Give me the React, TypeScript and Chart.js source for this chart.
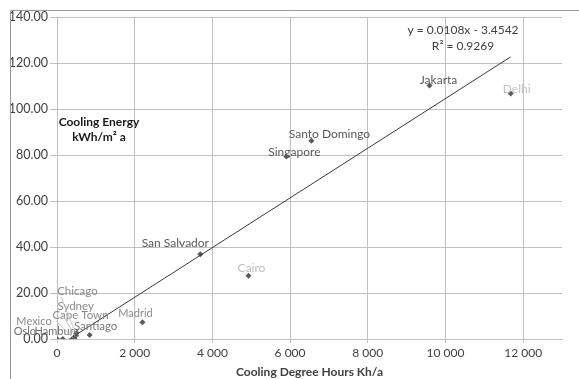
import React, { useEffect, useRef } from "react";
import { Chart, registerables } from "chart.js";

Chart.register(...registerables);

// ---- data ----
const cities = [
  "Mexico", "Oslo", "Hamburg", "Cape Town", "Sydney", "Chicago", "Santiago", "Madrid",
  "San Salvador", "Cairo", "Singapore", "Santo Domingo", "Jakarta", "Delhi",
];
const coolingDegreeHours = [0, 150, 410, 450, 480, 500, 840, 2200, 3690, 4930, 5905, 6550, 9590, 11680];
const coolingEnergy = [0, 0, 0, 0.3, 1.5, 2.6, 1.7, 7.3, 36.8, 27.5, 79.3, 86.2, 110.2, 106.7];

const xTicks = [0, 2000, 4000, 6000, 8000, 10000, 12000];
const yTicks = [0, 20, 40, 60, 80, 100, 120, 140];

const trendSlope = 0.0108;
const trendIntercept = -3.4542;
const trendRangeX = [0, 11680];
const equationLines = ["y = 0.0108x - 3.4542", "R² = 0.9269"];
const yTitleLines = ["Cooling Energy", "kWh/m² a"];
const xTitle = "Cooling Degree Hours Kh/a";

// ---- label styling (offsets from points, colours) ----
const labelOffsets: [number, number][] = [
  [-23, -18], [-38, -8], [-16, -8], [6, -23], [0, -29], [1, -42], [6, -9], [-7, -9],
  [-25, -11], [3, -8], [8, -4], [18, -7], [9, -5], [6, -4],
];
const labelColors = [
  "#8a8a8a", "#707070", "#707070", "#8a8a8a", "#8a8a8a", "#8a8a8a", "#7a7a7a", "#8a8a8a",
  "#5a5a5a", "#bdbdbd", "#5a5a5a", "#5a5a5a", "#5a5a5a", "#c4c4c4",
];
const labelSizes = [11, 11, 11, 11.5, 11.5, 11.5, 11.5, 11, 12, 12, 12, 12, 12, 12];
const labelLeaders = [false, false, false, true, true, true, false, false, false, false, false, false, false, false];

const FONT = "Lato, 'Open Sans', sans-serif";

const fmtThousands = (v: number) => String(v).replace(/\B(?=(\d{3})+(?!\d))/g, " ");

const annotationPlugin = {
  id: "annotations",
  afterDraw(chart: any) {
    const ctx = chart.ctx;
    const xs = chart.scales.x;
    const ys = chart.scales.y;
    ctx.save();
    // outer frame
    ctx.strokeStyle = "#9a9a9a";
    ctx.lineWidth = 1;
    ctx.beginPath();
    ctx.moveTo(10.5, 379);
    ctx.lineTo(10.5, 10.5);
    ctx.lineTo(579, 10.5);
    ctx.stroke();

    // point labels
    ctx.textAlign = "center";
    ctx.textBaseline = "middle";
    cities.forEach((name, i) => {
      ctx.font = `${labelSizes[i]}px ${FONT}`;
      const px = xs.getPixelForValue(coolingDegreeHours[i]);
      const py = ys.getPixelForValue(coolingEnergy[i]);
      const lx = px + labelOffsets[i][0];
      const ly = py + labelOffsets[i][1];
      if (labelLeaders[i]) {
        const w = ctx.measureText(name).width;
        ctx.strokeStyle = "#b5b5b5";
        ctx.lineWidth = 0.8;
        ctx.beginPath();
        ctx.moveTo(lx - w / 2 + 4, ly + 6);
        ctx.lineTo(px - 1, py);
        ctx.stroke();
      }
      ctx.fillStyle = labelColors[i];
      ctx.fillText(name, lx, ly);
    });

    const area = chart.chartArea;
    // equation
    ctx.fillStyle = "#404040";
    ctx.font = `12px ${FONT}`;
    ctx.fillText(equationLines[0], area.right - 99, area.top + 13);
    ctx.fillText(equationLines[1], area.right - 99, area.top + 29);

    // y title (inside plot)
    ctx.font = `bold 12px ${FONT}`;
    ctx.fillStyle = "#1a1a1a";
    ctx.fillText(yTitleLines[0], area.left + 42, 122);
    ctx.fillText(yTitleLines[1], area.left + 42, 137);

    // x title
    ctx.fillStyle = "#404040";
    ctx.fillText(xTitle, (area.left + area.right) / 2, 372);
    ctx.restore();
  },
};

export default function App() {
  const ref = useRef<HTMLCanvasElement>(null);
  useEffect(() => {
    if (!ref.current) return;
    const points = coolingDegreeHours.map((x, i) => ({ x, y: coolingEnergy[i] }));
    const trend = trendRangeX.map((x) => ({ x, y: trendSlope * x + trendIntercept }));
    const chart = new Chart(ref.current, {
      type: "scatter",
      data: {
        datasets: [
          {
            type: "line",
            data: trend,
            borderColor: "#3a3a3a",
            borderWidth: 1,
            pointRadius: 0,
            fill: false,
          } as any,
          {
            data: points,
            pointStyle: "rectRot",
            pointRadius: 3,
            backgroundColor: "#5a5a5a",
            borderColor: "#5a5a5a",
            borderWidth: 0,
          },
        ],
      },
      options: {
        responsive: false,
        animation: false,
        devicePixelRatio: 1,
        layout: { padding: { left: 0, right: 17, top: 17, bottom: 0 } },
        plugins: { legend: { display: false }, tooltip: { enabled: false } },
        scales: {
          x: {
            type: "linear",
            min: 0,
            max: 13000,
            afterBuildTicks: (s: any) => {
              s.ticks = xTicks.map((v) => ({ value: v }));
            },
            afterFit: (s: any) => {
              s.height = 40;
            },
            ticks: {
              callback: (v: any) => fmtThousands(Number(v)),
              color: "#404040",
              font: { family: FONT, size: 12 },
              padding: 3,
              maxRotation: 0,
            },
            grid: { color: "#c0c0c0", tickLength: 4, lineWidth: 1 },
            border: { color: "#c0c0c0" },
          },
          y: {
            type: "linear",
            min: 0,
            max: 140,
            afterBuildTicks: (s: any) => {
              s.ticks = yTicks.map((v) => ({ value: v }));
            },
            afterFit: (s: any) => {
              s.width = 57;
            },
            ticks: {
              callback: (v: any) => Number(v).toFixed(2),
              color: "#404040",
              font: { family: FONT, size: 12.5 },
              padding: 2,
            },
            grid: { color: "#c0c0c0", tickLength: 7, lineWidth: 1 },
            border: { color: "#c0c0c0" },
          },
        },
      },
      plugins: [annotationPlugin],
    });
    return () => chart.destroy();
  }, []);
  return (
    <div style={{ position: "fixed", left: 0, top: 0, width: 579, height: 379, background: "#fff" }}>
      <canvas ref={ref} width={579} height={379} style={{ display: "block" }} />
    </div>
  );
}
